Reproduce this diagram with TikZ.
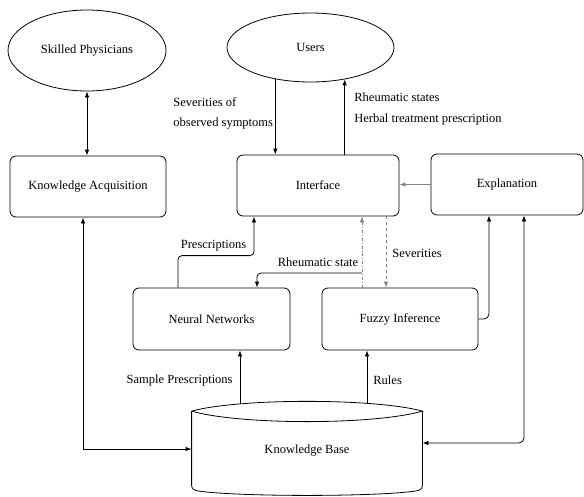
\documentclass[tikz,border=0pt]{standalone}
\usepackage{fontspec}
\setmainfont{Liberation Serif}
\usetikzlibrary{arrows.meta, positioning, shapes.geometric}

\tikzset{
    oval/.style={draw, ellipse, inner sep=0pt},
    box/.style={draw, rounded corners=6pt, inner sep=0pt},
    arr/.style={-{Latex[length=6pt,width=4.5pt]}},
    darr/.style={{Latex[length=6pt,width=4.5pt]}-{Latex[length=6pt,width=4.5pt]}},
    lbl/.style={inner sep=0pt},
}

\begin{document}
\begin{tikzpicture}[x=1pt, y=-1pt, line width=0.8pt, font=\fontsize{12.5}{20.5}\selectfont]
    \useasboundingbox (0,0) rectangle (584,496);

    % Outside actors
    \node[oval, minimum width=158pt, minimum height=81pt] (phys) at (87,50.5) {Skilled Physicians};
    \node[oval, minimum width=167pt, minimum height=69pt] (users) at (310.5,47.5) {Users};

    % Modules
    \node[box, minimum width=156pt, minimum height=61pt] (acq) at (88,186.5) {Knowledge Acquisition};
    \node[box, minimum width=162pt, minimum height=61pt] (intf) at (318,185.5) {Interface};
    \node[box, minimum width=152pt, minimum height=61pt] (expl) at (507,184.5) {Explanation};
    \node[box, minimum width=157pt, minimum height=62pt] (nn) at (211.5,319) {Neural Networks};
    \node[box, minimum width=156pt, minimum height=62pt] (fi) at (400,319) {Fuzzy Inference};

    % Knowledge base (drum)
    \node[minimum width=230pt, minimum height=79pt] (kb) at (307,451) {Knowledge Base};
    \draw (kb.north west) .. controls +(48,-13) and +(-48,-13) .. (kb.north east)
        .. controls +(-48,14) and +(48,14) .. (kb.north west);
    \draw (kb.north west) -- ([yshift=6pt]kb.south west)
        .. controls +(0,4) and +(-4,-1) .. ([xshift=6pt]kb.south west)
        .. controls +(40,6) and +(-40,6) .. ([xshift=-6pt]kb.south east)
        .. controls +(4,-1) and +(0,4) .. ([yshift=6pt]kb.south east)
        -- (kb.north east);

    % Acquisition
    \draw[darr] (phys.south) -- (phys.south |- acq.north);
    \draw[darr] ([xshift=-5pt]acq.south) |- ([yshift=2pt]kb.west);

    % User dialogue
    \draw[arr] (users.222) -- (users.222 |- intf.north);
    \draw[arr] (users.-43 |- intf.north) -- (users.-43);
    \node[lbl, align=left, anchor=west] (lsym) at (173,113.5) {Severities of\\observed symptoms};
    \node[lbl, align=left, anchor=west] (lout) at (354,109) {Rheumatic states\\Herbal treatment prescription};
    \draw[arr, gray] (expl.west) -- (expl.west -| intf.east);

    % Inference paths
    \draw[arr, rounded corners=4pt] ([xshift=-33.5pt]nn.north) -- ++(0,-32) -| ([xshift=-64pt]intf.south);
    \node[lbl] (lpre) at (213.5,246) {Prescriptions};
    \coordinate (rs) at (362,273);
    \draw[arr, gray, dash dot] (fi.north -| rs) -- (intf.south -| rs);
    \draw[arr, rounded corners=4pt] (rs) -| ([xshift=45.5pt]nn.north);
    \node[lbl] (lrs) at (318,262) {Rheumatic state};
    \draw[arr, gray, dashed] ([xshift=68pt]intf.south) -- ([xshift=68pt]intf.south |- fi.north);
    \node[lbl, anchor=west] (lsev) at (392,253) {Severities};

    % Explanation
    \draw[arr, rounded corners=5pt] (fi.east) -| ([xshift=-18pt]expl.south);
    \draw[darr, rounded corners=5pt] ([yshift=8pt]kb.east) -| ([xshift=17pt]expl.south);

    % Stored knowledge
    \draw[arr] ([xshift=28.5pt, yshift=7pt]nn.south |- kb.north) -- ([xshift=28.5pt]nn.south);
    \node[lbl, anchor=east] (lsam) at (233,380) {Sample Prescriptions};
    \draw[arr] ([xshift=-33pt, yshift=7pt]fi.south |- kb.north) -- ([xshift=-33pt]fi.south);
    \node[lbl, anchor=west] (lrul) at (373,380) {Rules};
\end{tikzpicture}
\end{document}
